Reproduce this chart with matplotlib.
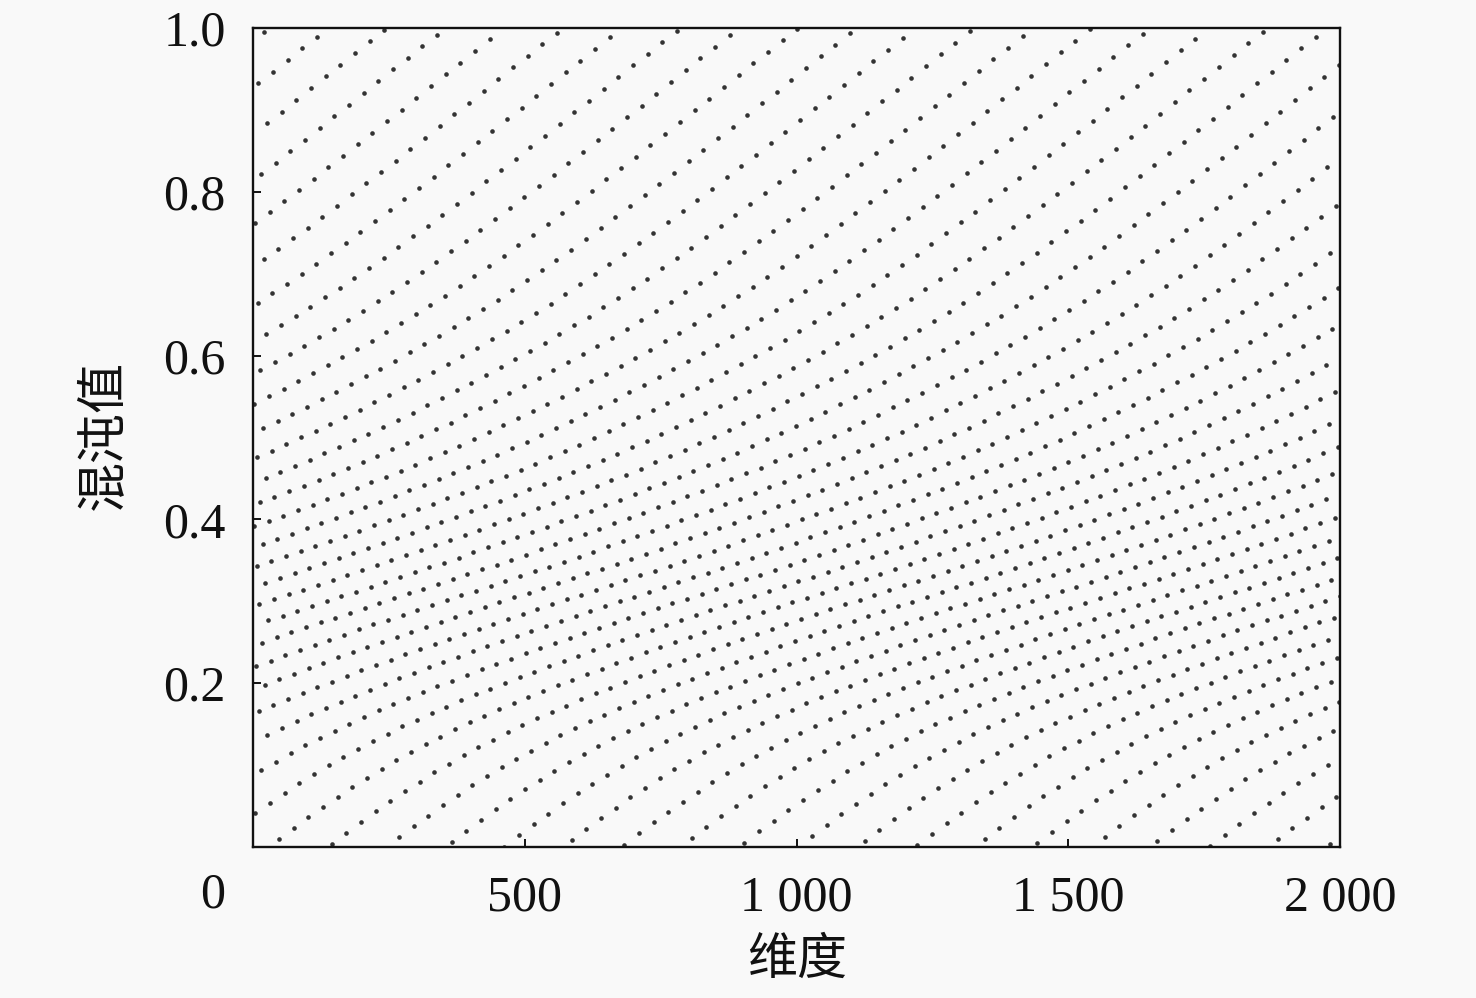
import numpy as np
import matplotlib.pyplot as plt

# Circle map settings: x(k+1) = mod(x(k) + b - a/(2*pi)*sin(2*pi*x(k)), 1)
circle_a = 0.5
circle_b = 0.2
x_start = 0.3915
n_dim = 2000

x_ticks = [500, 1000, 1500, 2000]
x_tick_labels = ['500', '1 000', '1 500', '2 000']
y_ticks = [0.2, 0.4, 0.6, 0.8, 1.0]
y_tick_labels = ['0.2', '0.4', '0.6', '0.8', '1.0']

# chaotic sequence, one value per dimension
dims = np.arange(1, n_dim + 1)
values = np.empty(n_dim)
x = x_start
for k in range(n_dim):
    values[k] = x
    x = np.mod(x + circle_b - circle_a / (2 * np.pi) * np.sin(2 * np.pi * x), 1)

fonts = ['Liberation Serif', 'Noto Sans CJK SC', 'DejaVu Sans']
plt.rcParams['font.family'] = fonts

bg = '#f9f9f9'
fig = plt.figure(figsize=(14.76, 9.98), dpi=100, facecolor=bg)
ax = fig.add_axes([253.3 / 1476, 151.25 / 998, 1086.7 / 1476, 818.75 / 998])
ax.set_facecolor(bg)

ax.scatter(dims, values, s=11, c='#333333', linewidths=0)

ax.set_xlim(0, 2000)
ax.set_ylim(0, 1)
ax.set_xticks(x_ticks, x_tick_labels)
ax.set_yticks(y_ticks, y_tick_labels)
ax.tick_params(direction='in', length=6, width=1.4, labelsize=36,
               colors='#111111')
ax.tick_params(axis='y', pad=20)
ax.tick_params(axis='x', pad=20)
for sp in ax.spines.values():
    sp.set_linewidth(1.7)
    sp.set_color('#111111')

# shared origin label
fig.text(213 / 1476, 1 - 895 / 998, '0', fontsize=36, ha='center',
         va='center', color='#111111')
fig.text(105 / 1476, 1 - 435 / 998, '混沌值', fontsize=36, rotation=90,
         ha='center', va='center', color='#111111')
fig.text(797 / 1476, 1 - 962 / 998, '维度', fontsize=36, ha='center',
         va='center', color='#111111')

fig.savefig('out.png', facecolor=bg)
